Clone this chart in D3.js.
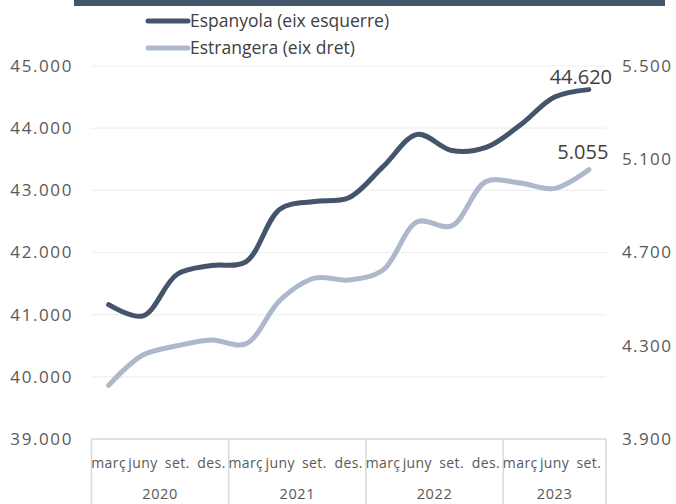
<!DOCTYPE html>
<html><head><meta charset="utf-8">
<script src="https://cdn.jsdelivr.net/npm/d3@7"></script>
<style>body{margin:0;background:#fff}svg{display:block}text{font-family:"Open Sans",sans-serif}</style>
</head><body><div id="c"></div>
<script>
const months = ["març","juny","set.","des.","març","juny","set.","des.","març","juny","set.","des.","març","juny","set."];
const years = ["2020","2021","2022","2023"];
const espanyola = [41160,40980,41650,41790,41850,42700,42820,42880,43380,43900,43640,43690,44050,44500,44620];
const estrangera = [4130,4260,4300,4325,4308,4496,4590,4582,4625,4832,4814,5004,4998,4975,5055];
const leftTicks = [39000,40000,41000,42000,43000,44000,45000];
const rightTicks = [3900,4300,4700,5100,5500];
const seriesNames = ["Espanyola (eix esquerre)","Estrangera (eix dret)"];

const W=676,H=504;
const loc = d3.formatLocale({decimal:",",thousands:".",grouping:[3],currency:["","€"]});
const fmt = loc.format(",d");
const svg = d3.select("#c").append("svg").attr("width",W).attr("height",H);

const x0=91.5,x1=606;
const x = d3.scaleBand().domain(d3.range(months.length)).range([x0,x1]);
const yL = d3.scaleLinear().domain([39000,45000]).range([439,66]);
const yR = d3.scaleLinear().domain([3900,5500]).range([439,66]);

svg.append("rect").attr("x",74).attr("y",0).attr("width",591).attr("height",6).attr("fill","#44546a");

svg.append("g").selectAll("line").data(leftTicks.slice(1)).join("line")
  .attr("x1",x0).attr("x2",x1).attr("y1",d=>yL(d)).attr("y2",d=>yL(d))
  .attr("stroke","#efefef").attr("stroke-width",1.2);

const gl = svg.append("g").attr("transform","translate(73,0)")
  .call(d3.axisLeft(yL).tickValues(leftTicks).tickFormat(fmt).tickSize(0).tickPadding(0));
gl.select(".domain").remove();
gl.selectAll("text").attr("font-size",17).attr("letter-spacing","1.6px").attr("fill","#595959").attr("font-family","Open Sans, sans-serif");

const gr = svg.append("g").attr("transform","translate(622,0)")
  .call(d3.axisRight(yR).tickValues(rightTicks).tickFormat(fmt).tickSize(0).tickPadding(0));
gr.select(".domain").remove();
gr.selectAll("text").attr("font-size",17).attr("letter-spacing","1.4px").attr("fill","#595959").attr("font-family","Open Sans, sans-serif");

svg.append("line").attr("x1",x0).attr("x2",x1).attr("y1",439).attr("y2",439).attr("stroke","#d9d9d9").attr("stroke-width",1.5);
const bounds=[0,4,8,12,15];
const bx=d=>d<15?x(d):x1;
svg.append("g").selectAll("line").data(bounds).join("line")
  .attr("x1",bx).attr("x2",bx).attr("y1",439).attr("y2",504)
  .attr("stroke","#d9d9d9").attr("stroke-width",1.5);
svg.append("g").selectAll("text").data(months).join("text")
  .attr("x",(d,i)=>x(i)+x.bandwidth()/2).attr("y",468).attr("text-anchor","middle")
  .attr("font-size",14).attr("letter-spacing","0.4px").attr("fill","#595959").text(d=>d);
svg.append("g").selectAll("text").data(years).join("text")
  .attr("x",(d,i)=>(bx(bounds[i])+bx(bounds[i+1]))/2)
  .attr("y",499).attr("text-anchor","middle").attr("font-size",14.5).attr("letter-spacing","0.6px").attr("fill","#595959").text(d=>d);

const cx=i=>x(i)+x.bandwidth()/2;
const lineL=d3.line().x((d,i)=>cx(i)).y(d=>yL(d)).curve(d3.curveCatmullRom.alpha(0.5));
const lineR=d3.line().x((d,i)=>cx(i)).y(d=>yR(d)).curve(d3.curveCatmullRom.alpha(0.5));
svg.append("path").attr("d",lineR(estrangera)).attr("fill","none").attr("stroke","#adb9ca").attr("stroke-width",5).attr("stroke-linecap","round");
svg.append("path").attr("d",lineL(espanyola)).attr("fill","none").attr("stroke","#44546a").attr("stroke-width",5).attr("stroke-linecap","round");

const last=months.length-1;
svg.append("text").attr("x",cx(last)-8).attr("y",yL(espanyola[last])-6).attr("text-anchor","middle")
  .attr("font-size",20).attr("fill","#404040").text(fmt(espanyola[last]));
svg.append("text").attr("x",cx(last)-6).attr("y",yR(estrangera[last])-11).attr("text-anchor","middle")
  .attr("font-size",20).attr("fill","#404040").text(fmt(estrangera[last]));

const leg=svg.append("g");
const colors=["#44546a","#adb9ca"];
seriesNames.forEach((n,i)=>{
  const yy=21+i*27;
  leg.append("line").attr("x1",148).attr("x2",188).attr("y1",yy).attr("y2",yy).attr("stroke",colors[i]).attr("stroke-width",5).attr("stroke-linecap","round");
  leg.append("text").attr("x",190).attr("y",yy+6).attr("font-size",17.5).attr("fill","#404040").text(n);
});
</script></body></html>
